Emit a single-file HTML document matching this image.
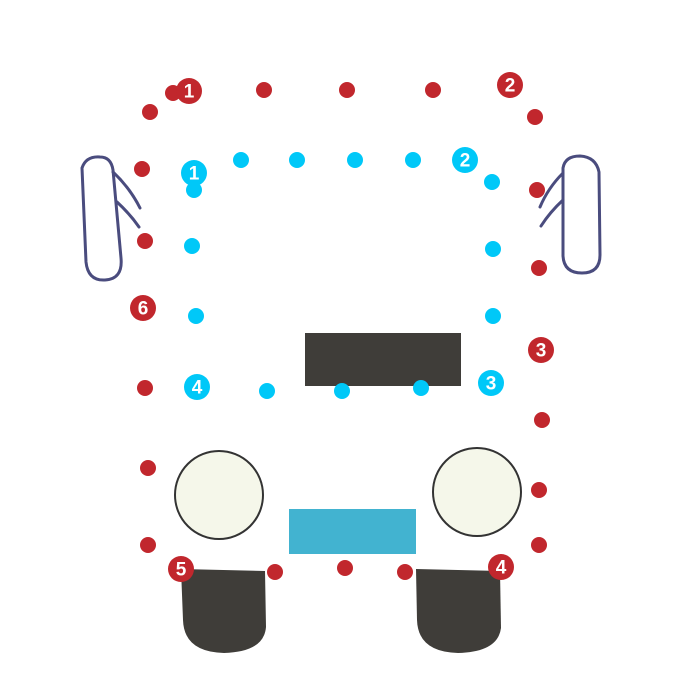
<!DOCTYPE html>
<html><head><meta charset="utf-8"><style>
html,body{margin:0;padding:0;background:#fff;width:700px;height:700px;overflow:hidden}
svg{display:block}
text{font-family:"Liberation Sans",sans-serif;font-weight:bold;fill:#fff;text-anchor:middle;dominant-baseline:central}
</style></head><body>
<svg width="700" height="700" viewBox="0 0 700 700" xmlns="http://www.w3.org/2000/svg">
<rect x="305" y="333" width="156" height="53" fill="#3f3d39"/>
<rect x="289" y="509" width="127" height="45" fill="#42b3d0"/>
<circle cx="219" cy="495" r="44" fill="#f5f7ea" stroke="#333" stroke-width="2"/>
<circle cx="477" cy="492" r="44" fill="#f5f7ea" stroke="#333" stroke-width="2"/>
<path d="M181,569 L265,571 L266,627 Q264,652 224,653 Q184,652 183,620 Z" fill="#3f3d39"/>
<path d="M416,569 L500,571 L501,628 Q498,652 458,653 Q418,652 417,620 Z" fill="#3f3d39"/>
<g fill="none" stroke="#4a4c7e" stroke-width="3" stroke-linecap="round">
<path d="M82,168 Q86,156 100,157 Q111,157 113,170 L121,258 Q123,279 105,280 Q88,281 86,262 Z"/>
<path d="M113,172 Q130,188 140,208"/>
<path d="M117,202 Q130,214 139,227"/>
<path d="M563,168 Q565,156 580,156 Q596,157 599,172 L600,255 Q600,273 582,273 Q564,273 563,256 Z"/>
<path d="M563,173 Q548,188 540,207"/>
<path d="M563,200 Q550,212 541,226"/>
</g>
<g fill="#c1272d">
<circle cx="173" cy="93" r="8"/><circle cx="150" cy="112" r="8"/><circle cx="264" cy="90" r="8"/>
<circle cx="347" cy="90" r="8"/><circle cx="433" cy="90" r="8"/><circle cx="535" cy="117" r="8"/>
<circle cx="142" cy="169" r="8"/><circle cx="537" cy="190" r="8"/><circle cx="145" cy="241" r="8"/>
<circle cx="539" cy="268" r="8"/><circle cx="145" cy="388" r="8"/><circle cx="542" cy="420" r="8"/>
<circle cx="148" cy="468" r="8"/><circle cx="539" cy="490" r="8"/><circle cx="148" cy="545" r="8"/>
<circle cx="539" cy="545" r="8"/><circle cx="275" cy="572" r="8"/><circle cx="345" cy="568" r="8"/>
<circle cx="405" cy="572" r="8"/>
<circle cx="189" cy="91" r="13"/><circle cx="510" cy="85" r="13"/><circle cx="541" cy="350" r="13"/>
<circle cx="501" cy="567" r="13"/><circle cx="181" cy="569" r="13"/><circle cx="143" cy="308" r="13"/>
</g>
<g fill="#00c8f8">
<circle cx="194" cy="190" r="8"/><circle cx="241" cy="160" r="8"/><circle cx="297" cy="160" r="8"/>
<circle cx="355" cy="160" r="8"/><circle cx="413" cy="160" r="8"/><circle cx="492" cy="182" r="8"/>
<circle cx="192" cy="246" r="8"/><circle cx="493" cy="249" r="8"/><circle cx="196" cy="316" r="8"/>
<circle cx="493" cy="316" r="8"/><circle cx="267" cy="391" r="8"/><circle cx="342" cy="391" r="8"/>
<circle cx="421" cy="388" r="8"/>
<circle cx="194" cy="173" r="13"/><circle cx="465" cy="160" r="13"/><circle cx="491" cy="383" r="13"/>
<circle cx="197" cy="387" r="13"/>
</g>
<g font-size="19">
<text x="189" y="92">1</text><text x="510" y="86">2</text><text x="541" y="351">3</text>
<text x="501" y="568">4</text><text x="181" y="570">5</text><text x="143" y="309">6</text>
<text x="194" y="174">1</text><text x="465" y="161">2</text><text x="491" y="384">3</text>
<text x="197" y="388">4</text>
</g>
</svg>
</body></html>
